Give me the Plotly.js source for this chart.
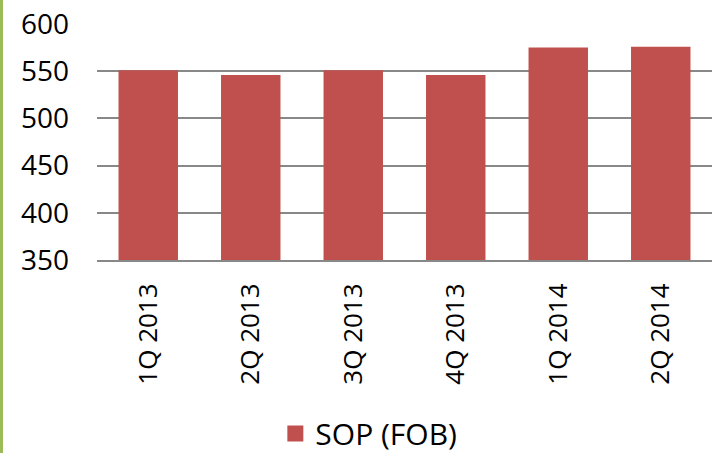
<!DOCTYPE html>
<html>
<head>
<meta charset="utf-8">
<script src="https://cdn.plot.ly/plotly-3.0.1.min.js"></script>
<style>
  body { margin: 0; padding: 0; background: #fff; }
  #plotly-div { width: 709px; height: 453px; border-left: 3px solid #9BBB59; }
</style>
</head>
<body>
<div id="plotly-div"></div>
<script>
// quarterly SOP (FOB) prices
var quarters = ['1Q 2013', '2Q 2013', '3Q 2013', '4Q 2013', '1Q 2014', '2Q 2014'];
var sopFob = [551, 546, 551, 546, 575, 576];
var seriesName = 'SOP (FOB)';

var dataPlot = [{
  x: quarters,
  y: sopFob,
  type: 'bar',
  name: seriesName,
  showlegend: false,
  marker: { color: '#C0504D' }
}, {
  // legend entry only, bigger square than the bar legend icon
  x: [null],
  y: [null],
  type: 'scatter',
  mode: 'markers',
  name: seriesName,
  marker: { symbol: 'square', size: 22, color: '#C0504D' }
}];

var layout = {
  width: 709,
  height: 453,
  margin: { l: 94, r: 0, t: 24, b: 193, autoexpand: false },
  paper_bgcolor: '#fff',
  plot_bgcolor: '#fff',
  font: { family: 'Open Sans, Liberation Sans, sans-serif', size: 26, color: '#000' },
  bargap: 0.42,
  showlegend: true,
  legend: {
    orientation: 'h',
    x: 0.29, xanchor: 'left',
    y: -0.735, yanchor: 'middle',
    itemsizing: 'trace',
    font: { size: 30 }
  },
  xaxis: {
    tickangle: -90,
    showline: true,
    linecolor: '#888',
    linewidth: 2,
    ticks: '',
    ticklabelstandoff: 11
  },
  yaxis: {
    range: [350, 600],
    dtick: 50,
    showgrid: true,
    gridcolor: '#888',
    gridwidth: 2,
    zeroline: false,
    ticks: '',
    tickfont: { size: 28 },
    ticklabelstandoff: 27
  }
};

Plotly.newPlot('plotly-div', dataPlot, layout, { displayModeBar: false });
</script>
</body>
</html>
